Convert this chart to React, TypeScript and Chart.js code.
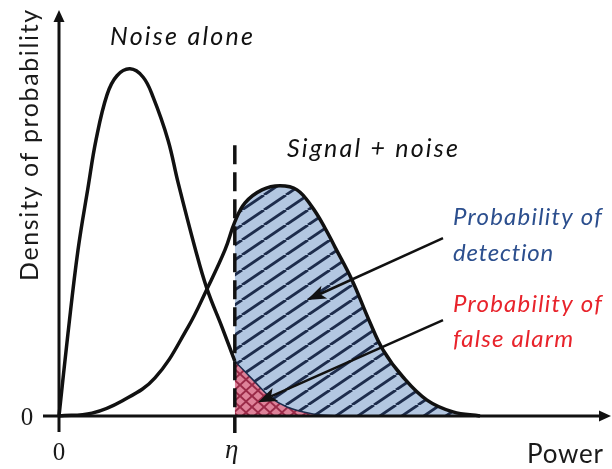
import React, { useEffect, useRef } from "react";
import { Chart, registerables } from "chart.js";

Chart.register(...registerables);

// Threshold on the power axis
const ETA = 3.22;
const THRESHOLD_TOP = 0.667;

// Noise alone (Rayleigh-like)
const NOISE_X = [0, 0.165, 0.348, 0.531, 0.678, 0.879, 1.062, 1.3, 1.538, 1.722, 1.996, 2.179, 2.491, 2.711, 2.985, 3.22, 3.553, 3.864, 4.176, 4.652, 5.15];
const NOISE_Y = [0, 0.204, 0.409, 0.562, 0.68, 0.791, 0.838, 0.855, 0.835, 0.786, 0.68, 0.576, 0.414, 0.313, 0.219, 0.135, 0.089, 0.047, 0.022, 0.005, 0];

// Signal + noise
const SIGNAL_X = [0, 0.604, 1.154, 1.758, 2.363, 2.711, 3.04, 3.22, 3.407, 3.718, 4.048, 4.359, 4.634, 4.872, 5.055, 5.366, 5.678, 5.934, 6.3, 6.74, 7.216, 7.711];
const SIGNAL_Y = [0, 0.007, 0.037, 0.094, 0.219, 0.313, 0.409, 0.478, 0.525, 0.557, 0.567, 0.557, 0.515, 0.463, 0.416, 0.335, 0.236, 0.163, 0.096, 0.039, 0.01, 0];

// Annotation arrows: [tailX, tailY, tipX, tipY] in data units
const DETECTION_ARROW = [7.033, 0.438, 4.542, 0.286];
const FALSE_ALARM_ARROW = [7.033, 0.236, 3.645, 0.034];

const TEXT_NOISE = "Noise alone";
const TEXT_SIGNAL = "Signal + noise";
const TEXT_DET = ["Probability of", "detection"];
const TEXT_FA = ["Probability of", "false alarm"];
const TEXT_X = "Power";
const TEXT_Y = "Density of probability";

function makePattern(bg: string, fg: string, w: number, h: number, lw: number, cross: boolean) {
  const c = document.createElement("canvas");
  c.width = w;
  c.height = h;
  const g = c.getContext("2d")!;
  g.fillStyle = bg;
  g.fillRect(0, 0, w, h);
  g.strokeStyle = fg;
  g.lineWidth = lw;
  for (const dx of [-w, 0, w]) {
    g.beginPath();
    g.moveTo(dx, h);
    g.lineTo(dx + w, 0);
    g.stroke();
    if (cross) {
      g.beginPath();
      g.moveTo(dx, 0);
      g.lineTo(dx + w, h);
      g.stroke();
    }
  }
  return g.createPattern(c, "repeat")!;
}

function arrow(ctx: CanvasRenderingContext2D, x1: number, y1: number, x2: number, y2: number, len: number, half: number) {
  const a = Math.atan2(y2 - y1, x2 - x1);
  const bx = x2 - Math.cos(a) * len * 0.75;
  const by = y2 - Math.sin(a) * len * 0.75;
  ctx.beginPath();
  ctx.moveTo(x1, y1);
  ctx.lineTo(bx, by);
  ctx.stroke();
  const px = -Math.sin(a), py = Math.cos(a);
  const cx = x2 - Math.cos(a) * len, cy = y2 - Math.sin(a) * len;
  ctx.beginPath();
  ctx.moveTo(x2, y2);
  ctx.lineTo(cx + px * half, cy + py * half);
  ctx.lineTo(bx, by);
  ctx.lineTo(cx - px * half, cy - py * half);
  ctx.closePath();
  ctx.fill();
}

// draw text left-aligned at x so that it spans about `width` pixels
function fitText(ctx: CanvasRenderingContext2D, text: string, x: number, y: number, width: number) {
  const c: any = ctx;
  c.letterSpacing = "0px";
  const w = ctx.measureText(text).width;
  const n = Math.max(1, text.length - 1);
  const ls = (width - w) / n;
  c.letterSpacing = ls.toFixed(2) + "px";
  ctx.textAlign = "left";
  ctx.fillText(text, x, y);
  c.letterSpacing = "0px";
}

const decorPlugin = {
  id: "decor",
  afterDraw(chart: any) {
    const ctx: CanvasRenderingContext2D = chart.ctx;
    const xs = chart.scales.x, ys = chart.scales.y;
    const x0 = xs.getPixelForValue(0);
    const y0 = ys.getPixelForValue(0);
    const yTop = ys.getPixelForValue(1);
    const xEnd = chart.chartArea.right + 6;
    ctx.save();
    ctx.strokeStyle = "#111";
    ctx.fillStyle = "#111";
    ctx.lineWidth = 3;
    ctx.lineCap = "butt";
    // y axis
    ctx.beginPath();
    ctx.moveTo(x0, y0 + 16);
    ctx.lineTo(x0, yTop + 10);
    ctx.stroke();
    ctx.beginPath();
    ctx.moveTo(x0, yTop);
    ctx.lineTo(x0 - 5.5, yTop + 12);
    ctx.lineTo(x0 + 5.5, yTop + 12);
    ctx.closePath();
    ctx.fill();
    // x axis
    ctx.beginPath();
    ctx.moveTo(x0 - 16, y0);
    ctx.lineTo(xEnd - 10, y0);
    ctx.stroke();
    ctx.beginPath();
    ctx.moveTo(xEnd, y0);
    ctx.lineTo(xEnd - 12, y0 - 5.5);
    ctx.lineTo(xEnd - 12, y0 + 5.5);
    ctx.closePath();
    ctx.fill();
    // threshold
    const xe = xs.getPixelForValue(ETA);
    ctx.lineWidth = 3.5;
    ctx.setLineDash([19, 8]);
    ctx.beginPath();
    ctx.moveTo(xe, ys.getPixelForValue(THRESHOLD_TOP));
    ctx.lineTo(xe, y0 + 17);
    ctx.stroke();
    ctx.setLineDash([]);
    // arrows
    ctx.lineWidth = 2.5;
    for (const a of [DETECTION_ARROW, FALSE_ALARM_ARROW]) {
      arrow(ctx, xs.getPixelForValue(a[0]), ys.getPixelForValue(a[1]), xs.getPixelForValue(a[2]), ys.getPixelForValue(a[3]), 19, 7);
    }
    // texts
    ctx.textBaseline = "alphabetic";
    ctx.fillStyle = "#111";
    ctx.font = "italic 25px Lato";
    fitText(ctx, TEXT_NOISE, 110, 45, 143);
    fitText(ctx, TEXT_SIGNAL, 287, 157, 171);
    ctx.font = "italic 24px Lato";
    ctx.fillStyle = "#2c4f8e";
    fitText(ctx, TEXT_DET[0], 453, 225, 149);
    fitText(ctx, TEXT_DET[1], 453, 261, 100);
    ctx.fillStyle = "#e8232b";
    fitText(ctx, TEXT_FA[0], 453, 312, 149);
    fitText(ctx, TEXT_FA[1], 453, 347, 120);
    ctx.fillStyle = "#1a1a1a";
    ctx.font = "26px Lato";
    fitText(ctx, TEXT_X, 527, 463, 76);
    ctx.save();
    ctx.translate(38, 281);
    ctx.rotate(-Math.PI / 2);
    ctx.font = "25px Lato";
    fitText(ctx, TEXT_Y, 0, 0, 271);
    ctx.restore();
    ctx.font = "25px 'Liberation Serif'";
    ctx.textAlign = "center";
    ctx.fillText("0", 27, 425);
    ctx.fillText("0", x0, 460);
    ctx.font = "italic 27px 'Liberation Serif'";
    ctx.fillText("\u03B7", xe - 3, 458);
    ctx.restore();
  },
};

export default function App() {
  const ref = useRef<HTMLCanvasElement | null>(null);
  useEffect(() => {
    document.body.style.margin = "0";
    const canvas = ref.current!;
    const noise = NOISE_X.map((x, i) => ({ x, y: NOISE_Y[i] }));
    const signal = SIGNAL_X.map((x, i) => ({ x, y: SIGNAL_Y[i] }));
    const noiseLeft = noise.filter((p) => p.x <= ETA);
    const noiseRight = noise.filter((p) => p.x >= ETA);
    const signalRight = signal.filter((p) => p.x >= ETA);
    const blue = makePattern("#b3c7e1", "#1d2c4c", 22, 15, 2.8, false);
    const red = makePattern("#de8299", "#9a2a48", 12, 11, 2, true);
    const common = { pointRadius: 0, tension: 0.4, cubicInterpolationMode: "default", clip: false };
    const chart = new Chart(canvas, {
      type: "line",
      data: {
        datasets: [
          { label: "Noise alone", data: noiseLeft, borderColor: "#111", borderWidth: 3.5, fill: false, order: 0, ...common },
          { label: "Signal + noise", data: signal, borderColor: "#111", borderWidth: 3.5, fill: false, order: 0, ...common },
          { label: "Probability of false alarm", data: noiseRight, borderColor: "#1d2c4c", borderWidth: 1.5, backgroundColor: red, fill: "origin", order: 1, ...common },
          { label: "Probability of detection", data: signalRight, borderColor: "rgba(0,0,0,0)", borderWidth: 0, backgroundColor: blue, fill: "origin", order: 2, ...common },
        ],
      } as any,
      options: {
        animation: false,
        responsive: false,
        layout: { padding: { left: 59, right: 7, top: 10, bottom: 53 } },
        plugins: { legend: { display: false }, tooltip: { enabled: false } },
        scales: {
          x: { type: "linear", min: 0, max: 10, display: false },
          y: { type: "linear", min: 0, max: 1, display: false },
        },
      } as any,
      plugins: [decorPlugin],
    });
    return () => chart.destroy();
  }, []);
  return (
    <div style={{ position: "absolute", left: 0, top: 0, width: 612, height: 469, background: "#fff" }}>
      <canvas ref={ref} width={612} height={469} style={{ display: "block", width: 612, height: 469 }} />
    </div>
  );
}
